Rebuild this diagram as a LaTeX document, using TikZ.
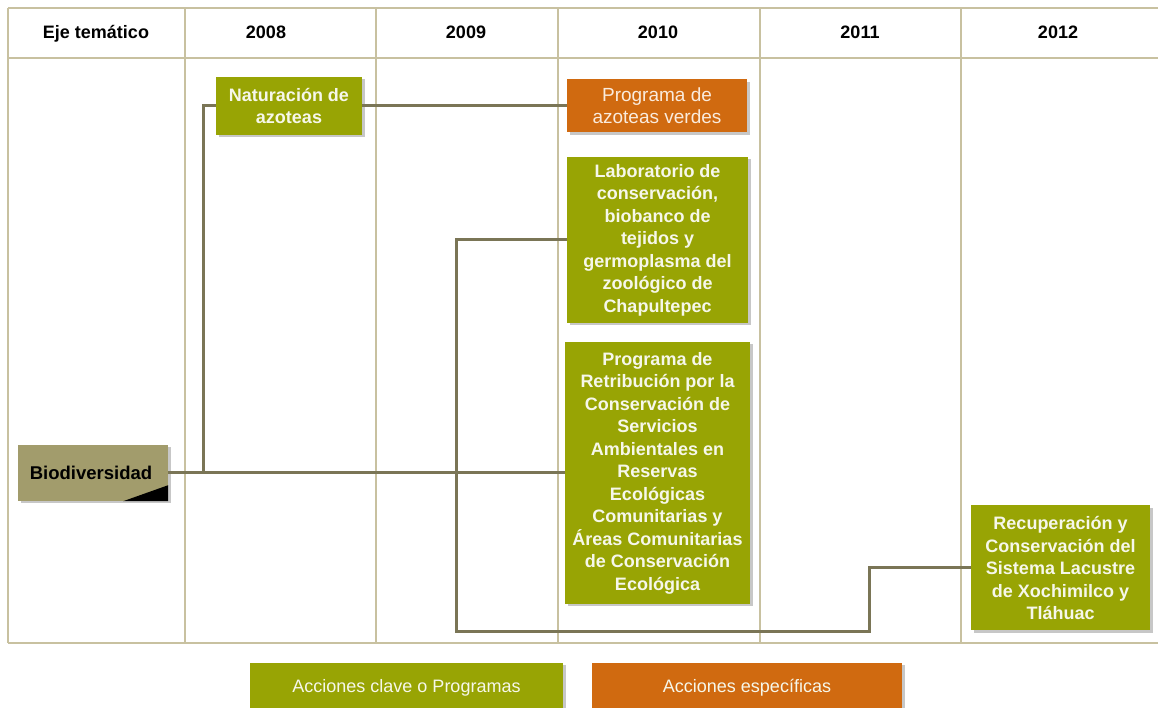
\documentclass[tikz,border=0pt]{standalone}
\usepackage{fontspec}
\setmainfont{Liberation Sans}
\usetikzlibrary{shadows}
\definecolor{boxgreen}{HTML}{98A404}
\definecolor{boxorange}{HTML}{D06A10}
\definecolor{khaki}{HTML}{A29C6C}
\definecolor{conncol}{HTML}{7A7556}
\definecolor{gridcol}{HTML}{C8C1A0}
\definecolor{boxtext}{HTML}{F6F7EA}
\definecolor{orangetext}{HTML}{FAEBDD}
\begin{document}
\begin{tikzpicture}[x=1pt,y=1pt,
  gridline/.style={draw=gridcol, line width=1.5},
  conn/.style={draw=conncol, line width=3},
  shadowed/.style={drop shadow={shadow xshift=2.5pt, shadow yshift=-2.5pt, fill=black, opacity=0.22}},
  basebox/.style={rectangle, inner sep=0pt, align=center, shadowed},
  greenbox/.style={basebox, fill=boxgreen, text=boxtext, font=\bfseries\fontsize{18}{22.5}\selectfont},
  orangebox/.style={basebox, fill=boxorange, text=orangetext, font=\fontsize{19}{22}\selectfont},
  biobox/.style={basebox, fill=khaki, text=black, font=\bfseries\fontsize{18.5}{22}\selectfont},
  hdr/.style={font=\bfseries\fontsize{18}{22}\selectfont, text=black, anchor=base},
  legendbox/.style={basebox, text=boxtext, font=\fontsize{18}{22}\selectfont}
]
\useasboundingbox (0,0) rectangle (1158,708);
\fill[white] (0,0) rectangle (1158,708);
% grid
\draw[gridline] (8,700) -- (1158,700);
\draw[gridline] (8,650) -- (1158,650);
\draw[gridline] (8,65) -- (1158,65);
\foreach \x in {8,185,376,558,760,961} \draw[gridline] (\x,700) -- (\x,65);
% headers
\node[hdr] (h0) at (96,669.5) {Eje temático};
\node[hdr] (h1) at (266,669.5) {2008};
\node[hdr] (h2) at (466,669.5) {2009};
\node[hdr] (h3) at (658,669.5) {2010};
\node[hdr] (h4) at (860,669.5) {2011};
\node[hdr] (h5) at (1058,669.5) {2012};
% boxes
\node[biobox, minimum width=150, minimum height=56] (bio) at (93,235) {Biodiversidad\hspace*{4pt}};
\fill[black] (bio.south east) -- ++(0,16) -- ++(-45,-16) -- cycle;
\node[greenbox, minimum width=146, minimum height=58] (nat) at (289,602) {Naturación de\\azoteas};
\node[orangebox, minimum width=180, minimum height=53] (azo) at (657,602) {Programa de\\azoteas verdes};
\node[greenbox, minimum width=181, minimum height=166] (lab) at (657.5,468) {Laboratorio de\\conservación,\\biobanco de\\tejidos y\\germoplasma del\\zoológico de\\Chapultepec};
\node[greenbox, minimum width=185, minimum height=262] (ret) at (657.5,235) {Programa de\\Retribución por la\\Conservación de\\Servicios\\Ambientales en\\Reservas\\Ecológicas\\Comunitarias y\\Áreas Comunitarias\\de Conservación\\Ecológica};
\node[greenbox, minimum width=179, minimum height=125] (rec) at (1060.5,140) {Recuperación y\\Conservación del\\Sistema Lacustre\\de Xochimilco y\\Tláhuac};
% connectors
\coordinate (j1) at (203,235);
\coordinate (j2) at (456,76);
\coordinate (j3) at (869,76);
\draw[conn] (bio.east) -- (ret.west);
\draw[conn] (j1) |- (nat.west);
\draw[conn] (nat.east) -- (azo.west);
\draw[conn] (lab.west) -| (j2) -- (j3) |- (rec.west);
% legend
\node[legendbox, fill=boxgreen, minimum width=313, minimum height=50] (leg1) at (406.5,20) {Acciones clave o Programas};
\node[legendbox, fill=boxorange, minimum width=310, minimum height=50] (leg2) at (747,20) {Acciones específicas};
\end{tikzpicture}
\end{document}
